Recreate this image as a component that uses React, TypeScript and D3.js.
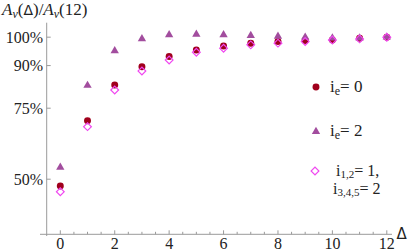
import * as d3 from 'd3';
import React from 'react';

// Δ values 0..12
const deltas = [0, 1, 2, 3, 4, 5, 6, 7, 8, 9, 10, 11, 12];
// A_v(Δ)/A_v(12) in percent
const ie0 = [47.6, 70.6, 83.2, 89.6, 93.2, 95.5, 96.9, 97.9, 98.5, 98.8, 99.0, 99.6, 100];
const ie2 = [54.2, 83.0, 95.2, 99.4, 100.8, 101.0, 100.8, 100.6, 100.3, 100.0, 99.7, 99.7, 100];
const mixed = [45.6, 68.5, 81.4, 88.1, 92.0, 94.7, 96.1, 97.3, 97.9, 98.5, 99.0, 99.4, 100];
const yTicks = [50, 75, 90, 100];
const xTicks = [0, 2, 4, 6, 8, 10, 12];

const W = 409, H = 252;
const txt = { fontFamily: 'Liberation Serif', fill: '#222' };

const App = () => {
  const x = d3.scaleLinear().domain([-0.5, 12.18]).range([46.7, 391.7]);
  const y = d3.scaleLinear().domain([30.6, 105.1]).range([234.3, 22.7]);
  const axisColor = '#9a9a9a';

  const circle = d3.symbol(d3.symbolCircle, 38)();
  const tri = d3.symbol(d3.symbolTriangle, 30)();
  const diamond = d3.symbol(d3.symbolSquare, 30)();

  const minor = d3.range(0, 12.01, 0.5).filter(v => v % 2 !== 0);

  return (
    <svg width={W} height={H} style={{ position: 'absolute', left: 0, top: 0 }}>
      {/* title */}
      <text x={2} y={15} fontSize={17} style={txt}>
        <tspan fontStyle="italic">A</tspan>
        <tspan fontStyle="italic" fontSize={12} dy={3}>v</tspan>
        <tspan dy={-3}>(</tspan>
        <tspan style={{ fontFamily: 'DejaVu Sans' }} fontSize={14}>Δ</tspan>
        <tspan>)/</tspan>
        <tspan fontStyle="italic">A</tspan>
        <tspan fontStyle="italic" fontSize={12} dy={3}>v</tspan>
        <tspan dy={-3}>(12)</tspan>
      </text>

      {/* axes */}
      <line x1={40} x2={392} y1={y(30.6)} y2={y(30.6)} stroke={axisColor} />
      <line x1={x(-0.5)} x2={x(-0.5)} y1={22.7} y2={236} stroke={axisColor} />

      {xTicks.map(t => (
        <g key={'xt' + t}>
          <line x1={x(t)} x2={x(t)} y1={y(30.6)} y2={y(30.6) - 4} stroke={axisColor} />
          <text x={x(t)} y={248.5} fontSize={16} textAnchor="middle" style={txt}>{t}</text>
        </g>
      ))}
      {minor.map(t => (
        <line key={'xm' + t} x1={x(t)} x2={x(t)} y1={y(30.6)} y2={y(30.6) - 2.5} stroke={axisColor} />
      ))}
      {yTicks.map(t => (
        <g key={'yt' + t}>
          <line x1={x(-0.5)} x2={x(-0.5) + 4} y1={y(t)} y2={y(t)} stroke={axisColor} />
          <text x={43} y={y(t) + 5.5} fontSize={16} textAnchor="end" style={txt}>{t}%</text>
        </g>
      ))}
      <text x={396.5} y={238.5} fontSize={15} style={{ fontFamily: 'DejaVu Sans', fill: '#222' }}>Δ</text>

      {/* data */}
      {ie0.map((v, i) => (
        <path key={'c' + i} d={circle} transform={`translate(${x(deltas[i])},${y(v)})`} fill="#a0001c" />
      ))}
      {ie2.map((v, i) => (
        <path key={'t' + i} d={tri} transform={`translate(${x(deltas[i])},${y(v)})`} fill="#a24d9e" />
      ))}
      {mixed.map((v, i) => (
        <path key={'d' + i} d={diamond} transform={`translate(${x(deltas[i])},${y(v)}) rotate(45)`}
          fill="none" stroke="#f048f0" strokeWidth={1.2} />
      ))}

      {/* legend */}
      <path d={circle} transform="translate(316,87)" fill="#a0001c" />
      <text x={330} y={92} fontSize={17} style={txt}>
        i<tspan fontSize={12} dy={3}>e</tspan><tspan dy={-3}>= 0</tspan>
      </text>
      <path d={tri} transform="translate(316,131.5)" fill="#a24d9e" />
      <text x={330} y={136} fontSize={17} style={txt}>
        i<tspan fontSize={12} dy={3}>e</tspan><tspan dy={-3}>= 2</tspan>
      </text>
      <path d={diamond} transform="translate(315,171) rotate(45)" fill="none" stroke="#f048f0" strokeWidth={1.2} />
      <text x={336} y={176} fontSize={16} style={txt}>
        i<tspan fontSize={11} dy={2}>1,2</tspan><tspan dy={-2}>= 1,</tspan>
      </text>
      <text x={333} y={193.5} fontSize={16} style={txt}>
        i<tspan fontSize={11} dy={2}>3,4,5</tspan><tspan dy={-2}>= 2</tspan>
      </text>
    </svg>
  );
};

export default App;
